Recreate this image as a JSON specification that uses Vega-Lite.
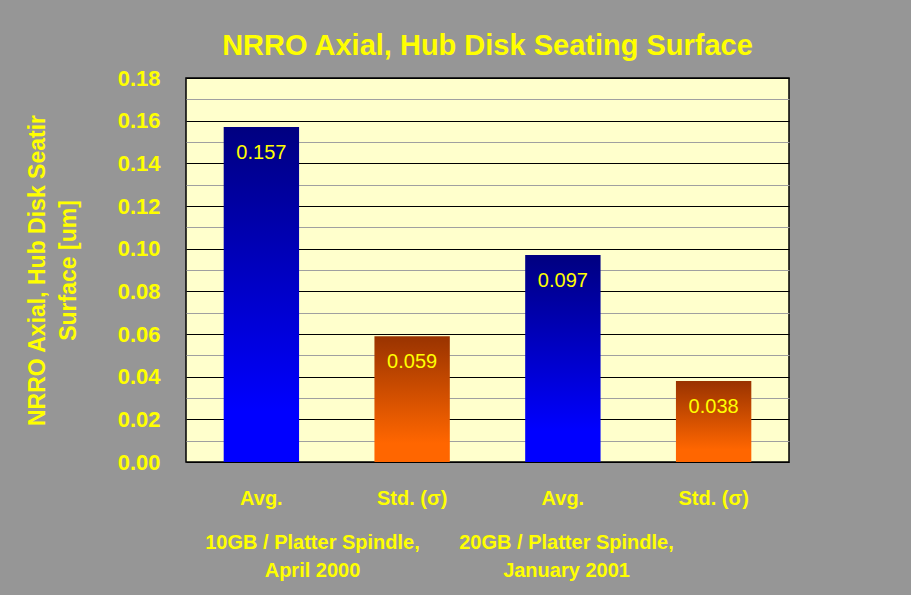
{
  "$schema": "https://vega.github.io/schema/vega-lite/v6.json",
  "width": 603,
  "height": 384,
  "autosize": {"type": "none"},
  "padding": {"left": 186, "top": 78, "right": 122, "bottom": 133},
  "background": "#969696",
  "title": {
    "text": "NRRO Axial, Hub Disk Seating Surface",
    "font": "Liberation Sans",
    "fontSize": 29,
    "fontWeight": "bold",
    "color": "#FFFF00",
    "anchor": "middle",
    "baseline": "alphabetic",
    "offset": -17
  },
  "data": {
    "values": [
      {"group": "10GB / Platter Spindle, April 2000", "stat": "Avg.", "key": "10GB Avg.", "value": 0.157},
      {"group": "10GB / Platter Spindle, April 2000", "stat": "Std. (σ)", "key": "10GB Std.", "value": 0.059},
      {"group": "20GB / Platter Spindle, January 2001", "stat": "Avg.", "key": "20GB Avg.", "value": 0.097},
      {"group": "20GB / Platter Spindle, January 2001", "stat": "Std. (σ)", "key": "20GB Std.", "value": 0.038}
    ]
  },
  "layer": [
    {
      "encoding": {
        "x": {
          "field": "key",
          "type": "nominal",
          "sort": ["10GB Avg.", "10GB Std.", "20GB Avg.", "20GB Std."],
          "scale": {"paddingInner": 0.5, "paddingOuter": 0.25},
          "axis": {
            "title": null,
            "orient": "bottom",
            "labelAngle": 0,
            "labelExpr": "indexof(datum.label, 'Avg') >= 0 ? 'Avg.' : 'Std. (σ)'",
            "labelBaseline": "top",
            "labelPadding": 26,
            "ticks": false,
            "domain": false,
            "grid": false
          }
        },
        "y": {
          "field": "value",
          "type": "quantitative",
          "scale": {"domain": [0, 0.18], "nice": false},
          "axis": {
            "values": [0, 0.01, 0.02, 0.03, 0.04, 0.05, 0.06, 0.07, 0.08, 0.09, 0.1, 0.11, 0.12, 0.13, 0.14, 0.15, 0.16, 0.17, 0.18],
            "labelExpr": "round(datum.value * 100) % 2 === 0 ? format(datum.value, '.2f') : ''",
            "title": ["NRRO Axial, Hub Disk Seatir", "Surface [um]"],
            "titleFontSize": 23,
            "titleLineHeight": 31,
            "titlePadding": 37,
            "labelFontSize": 22,
            "labelPadding": 26,
            "ticks": false,
            "domain": false,
            "grid": true,
            "gridColor": {"condition": {"test": "round(datum.value * 100) % 2 === 0", "value": "#000000"}, "value": "#a0a0a0"},
            "gridWidth": 1
          }
        }
      },
      "layer": [
        {
          "transform": [{"filter": "datum.stat === 'Avg.'"}],
          "mark": {
            "type": "bar",
            "color": {
              "gradient": "linear",
              "x1": 0, "y1": 0, "x2": 0, "y2": 1,
              "stops": [
                {"offset": 0, "color": "#000080"},
                {"offset": 0.85, "color": "#0000FF"},
                {"offset": 1, "color": "#0000FF"}
              ]
            }
          }
        },
        {
          "transform": [{"filter": "datum.stat !== 'Avg.'"}],
          "mark": {
            "type": "bar",
            "color": {
              "gradient": "linear",
              "x1": 0, "y1": 0, "x2": 0, "y2": 1,
              "stops": [
                {"offset": 0, "color": "#993300"},
                {"offset": 0.85, "color": "#FF6600"},
                {"offset": 1, "color": "#FF6600"}
              ]
            }
          }
        },
        {
          "mark": {
            "type": "text",
            "dy": 26,
            "baseline": "middle",
            "align": "center",
            "font": "Liberation Sans",
            "fontSize": 20,
            "color": "#FFFF00"
          },
          "encoding": {
            "text": {"field": "value", "type": "quantitative", "format": ".3f"}
          }
        }
      ]
    },
    {
      "mark": {"type": "point", "opacity": 0},
      "encoding": {
        "x": {
          "field": "group",
          "type": "nominal",
          "scale": {"type": "point", "range": [126, 380], "padding": 0},
          "axis": {
            "title": null,
            "orient": "bottom",
            "labelAngle": 0,
            "labelExpr": "[slice(datum.label, 0, indexof(datum.label, ', ') + 1), slice(datum.label, indexof(datum.label, ', ') + 2)]",
            "labelBaseline": "top",
            "labelPadding": 70,
            "labelLineHeight": 28,
            "ticks": false,
            "domain": false,
            "grid": false
          }
        }
      }
    }
  ],
  "resolve": {"scale": {"x": "independent"}, "axis": {"x": "independent"}},
  "config": {
    "view": {"fill": "#FFFFCC", "stroke": "#000000", "strokeWidth": 1.5},
    "axis": {
      "labelFont": "Liberation Sans",
      "labelFontWeight": "bold",
      "labelColor": "#FFFF00",
      "labelFontSize": 20,
      "titleFont": "Liberation Sans",
      "titleFontWeight": "bold",
      "titleColor": "#FFFF00",
      "labelOverlap": false,
      "labelLimit": 0
    }
  }
}
